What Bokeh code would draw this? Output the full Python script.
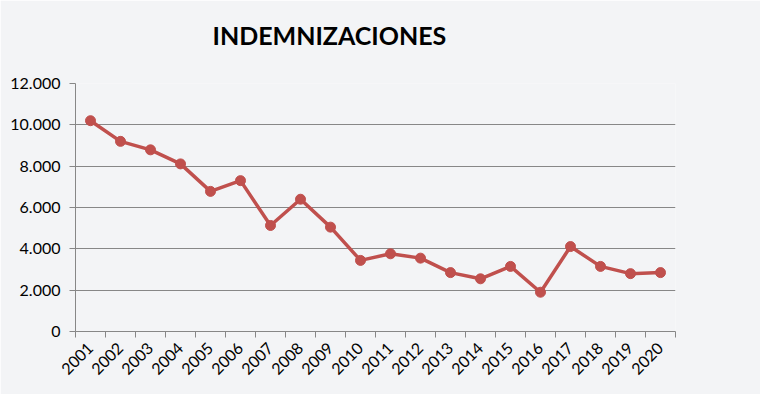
from math import pi
from bokeh.plotting import figure
from bokeh.models import FixedTicker, Range1d, ColumnDataSource, Title
from bokeh.embed import file_html
from bokeh.resources import INLINE

years = [str(y) for y in range(2001, 2021)]
values = [10200, 9200, 8790, 8110, 6780, 7300, 5130, 6400, 5050, 3440,
          3760, 3550, 2850, 2550, 3150, 1900, 4110, 3150, 2800, 2850]
y_ticks = [0, 2000, 4000, 6000, 8000, 10000, 12000]
y_tick_labels = ["0", "2.000", "4.000", "6.000", "8.000", "10.000", "12.000"]
title_text = "INDEMNIZACIONES"

BG = "#f3f4f6"
GRID = "#878787"
RED = "#c0504d"
FONT = "Lato"

n = len(years)
xs = [i + 0.5 for i in range(n)]
src = ColumnDataSource(data=dict(x=xs, y=values, year=years))

p = figure(width=760, height=394, output_backend="svg", toolbar_location=None,
           x_range=Range1d(0, n), y_range=Range1d(0, 12000),
           min_border_left=75, min_border_right=85, min_border_top=83, min_border_bottom=63,
           frame_width=600, frame_height=248)
p.background_fill_color = BG
p.border_fill_color = BG
p.outline_line_color = None

# main title (outermost)
p.title.text = title_text
p.title.align = "left"
p.title.offset = 137
p.title.text_font = FONT
p.title.text_font_style = "bold"
p.title.text_font_size = "25px"
p.title.text_color = "#000000"
p.title.standoff = 0
p.title.vertical_align = "bottom"

# invisible spacer title between main title and frame
spacer = Title(text=" ", text_font_size="10px", standoff=21)
p.add_layout(spacer, "above")

p.line("x", "y", source=src, line_color=RED, line_width=3.5)
p.scatter("x", "y", source=src, size=10, fill_color=RED, line_color=RED)

# x axis
p.xaxis.ticker = FixedTicker(ticks=xs, minor_ticks=list(range(n + 1)))
p.xaxis.major_label_overrides = {x: y for x, y in zip(xs, years)}
p.xaxis.major_tick_out = 0
p.xaxis.major_tick_in = 0
p.xaxis.minor_tick_out = 6
p.xaxis.minor_tick_in = 0
p.xaxis.minor_tick_line_color = GRID
p.xaxis.axis_line_color = GRID
p.xaxis.major_label_orientation = pi / 4
p.xaxis.major_label_text_font = FONT
p.xaxis.major_label_text_font_size = "16px"
p.xaxis.major_label_text_color = "#000000"
p.xaxis.major_label_standoff = 8

# y axis
p.yaxis.ticker = FixedTicker(ticks=y_ticks)
p.yaxis.major_label_overrides = {t: l for t, l in zip(y_ticks, y_tick_labels)}
p.yaxis.major_tick_out = 6
p.yaxis.major_tick_in = 0
p.yaxis.minor_tick_line_color = None
p.yaxis.major_tick_line_color = GRID
p.yaxis.axis_line_color = GRID
p.yaxis.major_label_text_font = FONT
p.yaxis.major_label_text_font_size = "16px"
p.yaxis.major_label_text_color = "#000000"
p.yaxis.major_label_standoff = 9

p.xgrid.grid_line_color = None
p.ygrid.grid_line_color = GRID
p.ygrid.grid_line_width = 1

open("out.html", "w").write(file_html(p, INLINE))
